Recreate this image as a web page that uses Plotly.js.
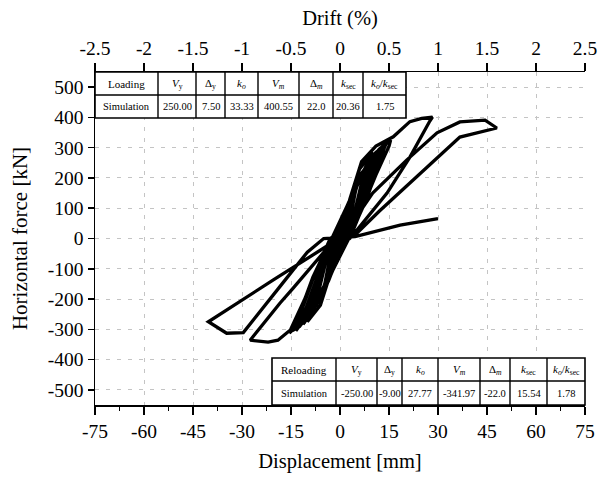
<!DOCTYPE html>
<html>
<head>
<meta charset="utf-8">
<script src="https://cdn.plot.ly/plotly-3.0.1.min.js"></script>
<style>html,body{margin:0;padding:0;background:#fff;}#chart{width:601px;height:481px;}</style>
</head>
<body>
<div id="chart"></div>
<script>
// ---- data ----
const dispMM = [
  0,
  1.3, 3, 2.6, 1.6, 0.5, -1.3, -3, -2.6, -1.6, -0.5,
  2.2, 5, 4.5, 2.8, 1, -2.2, -5, -4.5, -2.8, -1,
  2.4, 5.2, 4.7, 3, 1.2, -2.4, -5.2, -4.7, -3, -1.2,
  3.5, 8, 7.2, 4.4, 1.5, -3.5, -8, -7.2, -4.4, -1.5,
  3.7, 8.2, 7.4, 4.6, 1.7, -3.7, -8.2, -7.4, -4.6, -1.7,
  1, 4, 9.5, 8.8, 6.5, 3.5, 1.5, -1, -4, -9.5, -8.8, -6.5, -3.5, -1.5,
  4.8, 11, 10, 6, 2, -4.8, -11, -10, -6, -2,
  5, 11.3, 10.3, 6.3, 2.2, -5, -11.3, -10.3, -6.3, -2.2,
  1, 6, 10, 9.5, 7, 4, 1.8, -1, -6, -10, -9.5, -7, -4, -1.8,
  0.5, 5.5, 12.5, 12, 9, 5, 2, -0.5, -5.5, -12.5, -12, -9, -5, -2,
  6, 10, 14, 13, 8, 2.5, -6, -10, -14, -13, -8, -2.5,
  6.4, 10.5, 14.3, 13.3, 8.3, 2.7, -6.4, -10.5, -14.5, -13.5, -8.3, -2.7,
  -0.5, 4, 8, 12, 15.5, 15, 11, 6, 3, -1, -5, -10, -15.5, -15, -11, -6, -3,
  0.2, 3, 7, 13.5, 13, 10, 7, 3.5, 0, -3, -7, -13.5, -13, -10, -7, -3.5,
  0, 3, 6.6, 11, 16.3, 21.4, 25, 28.3, 27.5, 21.4, 14.4, 5.2, 2,
  -2, -6, -11, -15.5, -19, -22, -27.5, -18.4, -14.4, -8, -2, 0,
  3, 10, 20.4, 29.7, 36.7, 44.4, 48, 36.7, 22, 12, 5.2,
  -4, -20.4, -40.3, -34.7, -29.6, -18.4, -10, -5, 4.6, 18.4, 30
];
const forceKN = [
  0,
  65, 110, 95, 35, 0, -65, -105, -92, -35, 0,
  100, 170, 150, 55, 0, -100, -165, -148, -55, 0,
  104, 174, 154, 60, 0, -100, -170, -152, -58, 0,
  140, 235, 210, 85, 0, -140, -230, -205, -80, 0,
  145, 240, 214, 88, 0, -142, -235, -208, -84, 0,
  40, 150, 262, 240, 150, 40, 0, -40, -150, -255, -235, -150, -40, 0,
  175, 285, 255, 100, 0, -170, -280, -250, -98, 0,
  178, 288, 258, 104, 0, -172, -284, -254, -102, 0,
  50, 230, 285, 265, 170, 60, 0, -50, -220, -275, -258, -165, -58, 0,
  30, 200, 300, 285, 190, 70, 0, -30, -195, -292, -278, -185, -68, 0,
  200, 270, 315, 290, 130, 0, -190, -262, -300, -275, -125, 0,
  205, 278, 318, 292, 134, 0, -195, -268, -305, -280, -128, 0,
  10, 150, 240, 295, 325, 305, 210, 80, 0, -30, -160, -255, -312, -298, -205, -75, 0,
  20, 120, 215, 310, 296, 225, 150, 50, 0, -115, -210, -305, -290, -220, -145, -45,
  10, 130, 254, 305, 336, 386, 397, 401, 388, 269, 150, 28, 0,
  -70, -200, -275, -305, -336, -342, -336, -214, -165, -85, -8, 0,
  40, 150, 259, 349, 385, 391, 365, 335, 188, 90, 18,
  -25, -137, -275, -313, -311, -159, -45, 0, 6, 44, 66
];
const dispTicks = [-75, -60, -45, -30, -15, 0, 15, 30, 45, 60, 75];
const driftTicks = [-2.5, -2, -1.5, -1, -0.5, 0, 0.5, 1, 1.5, 2, 2.5];
const forceTicks = [-500, -400, -300, -200, -100, 0, 100, 200, 300, 400, 500];

const loadingHeaders = ['Loading', '<i>V</i><sub>y</sub>', 'Δ<sub>y</sub>', '<i>k</i><sub><i>o</i></sub>', '<i>V</i><sub><i>m</i></sub>', 'Δ<sub><i>m</i></sub>', '<i>k</i><sub>sec</sub>', '<i>k</i><sub><i>o</i></sub>/<i>k</i><sub>sec</sub>'];
const loadingValues = ['Simulation', '250.00', '7.50', '33.33', '400.55', '22.0', '20.36', '1.75'];
const reloadingHeaders = ['Reloading', '<i>V</i><sub>y</sub>', 'Δ<sub>y</sub>', '<i>k</i><sub><i>o</i></sub>', '<i>V</i><sub><i>m</i></sub>', 'Δ<sub><i>m</i></sub>', '<i>k</i><sub>sec</sub>', '<i>k</i><sub><i>o</i></sub>/<i>k</i><sub>sec</sub>'];
const reloadingValues = ['Simulation', '-250.00', '-9.00', '27.77', '-341.97', '-22.0', '15.54', '1.78'];

// ---- layout geometry ----
const ML = 95, MR = 16, MT = 72, MB = 76, W = 601, H = 481;
const PW = W - ML - MR, PH = H - MT - MB;
const px2x = p => (p - ML) / PW;
const py2y = p => (H - MB - p) / PH;

const FONT = 'Liberation Serif, Times New Roman, serif';
const shapes = [];
const annotations = [];

function buildTable(headers, values, cols, top, mid, bot) {
  shapes.push({type: 'rect', xref: 'paper', yref: 'paper', layer: 'above',
    x0: px2x(cols[0]), x1: px2x(cols[cols.length - 1]), y0: py2y(bot), y1: py2y(top),
    fillcolor: '#ffffff', line: {color: '#000', width: 1.6}});
  shapes.push({type: 'line', xref: 'paper', yref: 'paper', layer: 'above',
    x0: px2x(cols[0]), x1: px2x(cols[cols.length - 1]), y0: py2y(mid), y1: py2y(mid),
    line: {color: '#000', width: 1.4}});
  for (let i = 1; i < cols.length - 1; i++) {
    shapes.push({type: 'line', xref: 'paper', yref: 'paper', layer: 'above',
      x0: px2x(cols[i]), x1: px2x(cols[i]), y0: py2y(bot), y1: py2y(top),
      line: {color: '#000', width: 1.4}});
  }
  for (let i = 0; i < headers.length; i++) {
    const cx = px2x((cols[i] + cols[i + 1]) / 2);
    annotations.push({xref: 'paper', yref: 'paper', x: cx, y: py2y((top + mid) / 2),
      text: headers[i], showarrow: false, xanchor: 'center', yanchor: 'middle',
      font: {family: FONT, size: 11, color: '#000'}});
    annotations.push({xref: 'paper', yref: 'paper', x: cx, y: py2y((mid + bot) / 2),
      text: values[i], showarrow: false, xanchor: 'center', yanchor: 'middle',
      font: {family: FONT, size: 10.5, color: '#000'}});
  }
}
buildTable(loadingHeaders, loadingValues, [95, 158, 196, 225, 258, 299, 333, 363, 406], 72, 95, 118);
buildTable(reloadingHeaders, reloadingValues, [272, 336, 377, 402, 438, 480, 510, 547, 585], 358, 381, 405);

const traces = [
  {x: dispMM, y: forceKN, type: 'scatter', mode: 'lines',
   line: {color: '#000', width: 3.3, shape: 'linear'}, hoverinfo: 'skip'},
  {x: driftTicks, y: driftTicks.map(() => null), xaxis: 'x2', yaxis: 'y', type: 'scatter',
   mode: 'lines', hoverinfo: 'skip', showlegend: false}
];

const tickFont = {family: FONT, size: 19.5, color: '#000'};
const layout = {
  width: W, height: H,
  margin: {l: ML, r: MR, t: MT, b: MB, pad: 0},
  paper_bgcolor: '#fff', plot_bgcolor: '#fff',
  showlegend: false,
  font: {family: FONT, color: '#000'},
  xaxis: {
    range: [-75, 75], tickmode: 'array', tickvals: dispTicks, ticktext: dispTicks.map(String),
    ticks: 'outside', ticklen: 8, tickwidth: 1.5, tickcolor: '#000',
    showline: true, linecolor: '#000', linewidth: 1.5, mirror: false,
    showgrid: true, gridcolor: '#c4c4c4', griddash: '4px,7px', gridwidth: 1,
    zeroline: false, tickfont: tickFont,
    minor: {dtick: 7.5, tick0: -75, ticks: 'outside', ticklen: 4, tickcolor: '#000', tickwidth: 1.2, showgrid: false},
    title: {text: 'Displacement [mm]', font: {family: FONT, size: 20.5, color: '#000'}, standoff: 12}
  },
  xaxis2: {
    overlaying: 'x', side: 'top', anchor: 'y',
    range: [-2.5, 2.5], tickmode: 'array', tickvals: driftTicks, ticktext: driftTicks.map(String),
    ticks: 'outside', ticklen: 8, tickwidth: 1.5, tickcolor: '#000',
    showline: true, linecolor: '#000', linewidth: 1.5,
    showgrid: false, zeroline: false, tickfont: tickFont,
    title: {text: 'Drift (%)', font: {family: FONT, size: 20.5, color: '#000'}, standoff: 6}
  },
  yaxis: {
    range: [-550, 550], tickmode: 'array', tickvals: forceTicks, ticktext: forceTicks.map(String),
    ticks: 'outside', ticklen: 6, tickwidth: 1.5, tickcolor: '#000',
    showline: true, linecolor: '#000', linewidth: 1.5, mirror: false,
    showgrid: true, gridcolor: '#c4c4c4', griddash: '4px,7px', gridwidth: 1,
    zeroline: false, tickfont: tickFont,
    title: {text: 'Horizontal force [kN]', font: {family: FONT, size: 21, color: '#000'}, standoff: 14}
  },
  shapes: shapes,
  annotations: annotations
};

Plotly.newPlot('chart', traces, layout, {staticPlot: true, displayModeBar: false});
</script>
</body>
</html>
